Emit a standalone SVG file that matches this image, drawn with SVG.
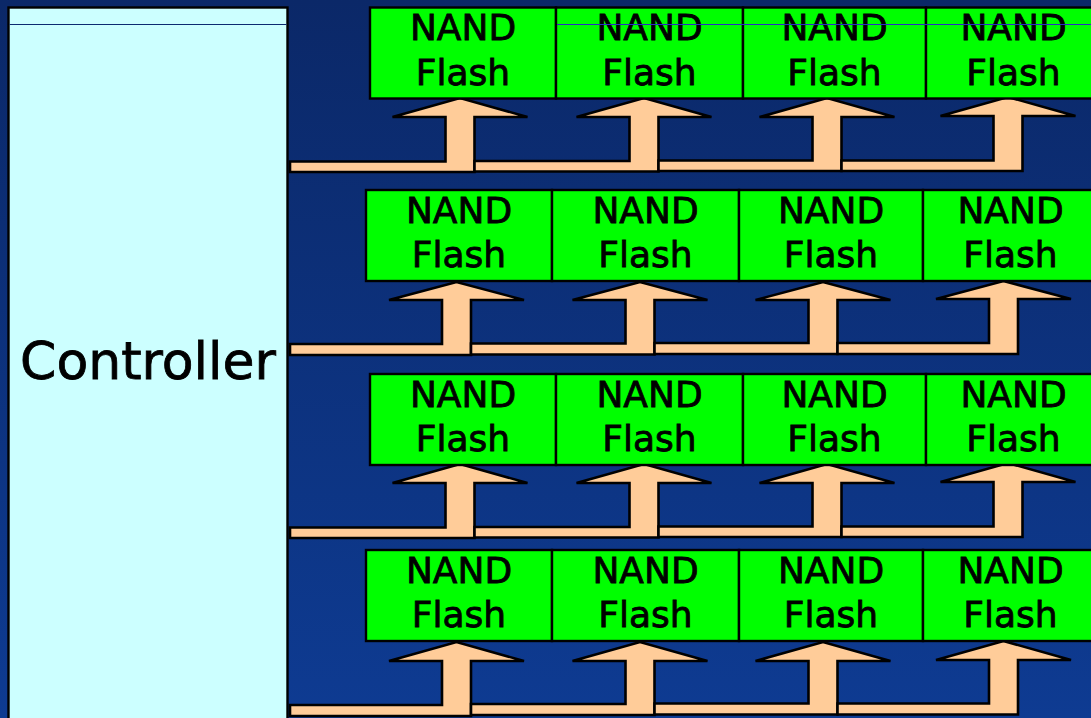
<svg xmlns="http://www.w3.org/2000/svg" width="1091" height="718" viewBox="0 0 1091 718">
  <defs>
    <linearGradient id="bg" x1="0" y1="0" x2="0" y2="1">
      <stop offset="0" stop-color="#0b2868"/>
      <stop offset="1" stop-color="#0e3b92"/>
    </linearGradient>
    <style>
      .chip { fill: #00ff00; stroke: #000; stroke-width: 2.4; }
      .chip-label { font-family: "DejaVu Sans", "Liberation Sans", sans-serif; font-size: 36px; fill: #000; stroke: #000; stroke-width: 0.8; text-anchor: middle; }
      .bus { fill: #ffcc99; stroke: #000; stroke-width: 2.6; stroke-linejoin: miter; }
      .ctrl { fill: #ccffff; stroke: #000; stroke-width: 2.4; }
      .ctrl-label { font-family: "DejaVu Sans", "Liberation Sans", sans-serif; font-size: 52px; fill: #000; stroke: #000; stroke-width: 0.8; text-anchor: middle; }
    </style>
  </defs>

  <rect x="0" y="0" width="1091" height="718" fill="url(#bg)"/>

  <!-- controller -->
  <g id="controller">
    <rect class="ctrl" x="8.5" y="7.5" width="279" height="720"/>
    <line x1="9.5" y1="24.5" x2="286.5" y2="24.5" stroke="#0c2a70" stroke-width="1"/>
    <text class="ctrl-label" x="148" y="379">Controller</text>
  </g>

  <!-- buses: each arrow branches from the previous stem up to one chip -->
  <g id="connectors">
    <!-- row 1 -->
    <path class="bus" d="M290,161.5 H445.5 V117 H392.5 L460,98 L527.5,117 H474.5 V172 H290 Z"/>
    <path class="bus" d="M474.5,161 H629.5 V117 H576.5 L644,98 L711.5,117 H658.5 V171.5 H474.5 Z"/>
    <path class="bus" d="M658.5,160.5 H812.5 V117 H759.5 L827,98 L894.5,117 H841.5 V171 H658.5 Z"/>
    <path class="bus" d="M841.5,160.5 H993.5 V116 H940.5 L1008,97 L1075.5,116 H1022.5 V171 H841.5 Z"/>
    <!-- row 2 -->
    <path class="bus" d="M290,344 H442 V300 H389 L456.5,282 L524,300 H471 V355 H290 Z"/>
    <path class="bus" d="M471,343.5 H625.5 V300 H572.5 L640,282 L707.5,300 H654.5 V354.5 H471 Z"/>
    <path class="bus" d="M654.5,343 H808.5 V300 H755.5 L823,282 L890.5,300 H837.5 V354 H654.5 Z"/>
    <path class="bus" d="M837.5,343 H989 V299 H936 L1003.5,281 L1071,299 H1018 V354 H837.5 Z"/>
    <!-- row 3 -->
    <path class="bus" d="M290,527.5 H445.5 V483 H392.5 L460,464 L527.5,483 H474.5 V538 H290 Z"/>
    <path class="bus" d="M474.5,527 H629.5 V483 H576.5 L644,464 L711.5,483 H658.5 V537.5 H474.5 Z"/>
    <path class="bus" d="M658.5,526.5 H812.5 V483 H759.5 L827,464 L894.5,483 H841.5 V537 H658.5 Z"/>
    <path class="bus" d="M841.5,526.5 H993.5 V482 H940.5 L1008,463 L1075.5,482 H1022.5 V537 H841.5 Z"/>
    <!-- row 4 -->
    <path class="bus" d="M290,705 H442 V661 H389 L456.5,642 L524,661 H471 V716 H290 Z"/>
    <path class="bus" d="M471,704 H625.5 V661 H572.5 L640,642 L707.5,661 H654.5 V715 H471 Z"/>
    <path class="bus" d="M654.5,703.5 H808.5 V661 H755.5 L823,642 L890.5,661 H837.5 V714.5 H654.5 Z"/>
    <path class="bus" d="M837.5,703.5 H989 V660 H936 L1003.5,641 L1071,660 H1018 V714.5 H837.5 Z"/>
  </g>

  <!-- row 1 chips -->
  <g id="chip-r1c1"><rect class="chip" x="370" y="7.5" width="186" height="91"/><text class="chip-label" x="463" y="40">NAND</text><text class="chip-label" x="463" y="85">Flash</text></g>
  <g id="chip-r1c2"><rect class="chip" x="556" y="7.5" width="187" height="91"/><text class="chip-label" x="649.5" y="40">NAND</text><text class="chip-label" x="649.5" y="85">Flash</text></g>
  <g id="chip-r1c3"><rect class="chip" x="743" y="7.5" width="183" height="91"/><text class="chip-label" x="834.5" y="40">NAND</text><text class="chip-label" x="834.5" y="85">Flash</text></g>
  <g id="chip-r1c4"><rect class="chip" x="926" y="7.5" width="176" height="91"/><text class="chip-label" x="1013.5" y="40">NAND</text><text class="chip-label" x="1013.5" y="85">Flash</text></g>
  <line x1="557" y1="24.5" x2="1091" y2="24.5" stroke="#2a2ac8" stroke-width="1"/>

  <!-- row 2 chips -->
  <g id="chip-r2c1"><rect class="chip" x="366" y="190" width="186" height="91"/><text class="chip-label" x="459" y="223">NAND</text><text class="chip-label" x="459" y="267">Flash</text></g>
  <g id="chip-r2c2"><rect class="chip" x="552" y="190" width="187" height="91"/><text class="chip-label" x="645.5" y="223">NAND</text><text class="chip-label" x="645.5" y="267">Flash</text></g>
  <g id="chip-r2c3"><rect class="chip" x="739" y="190" width="184" height="91"/><text class="chip-label" x="831" y="223">NAND</text><text class="chip-label" x="831" y="267">Flash</text></g>
  <g id="chip-r2c4"><rect class="chip" x="923" y="190" width="176" height="91"/><text class="chip-label" x="1010.5" y="223">NAND</text><text class="chip-label" x="1010.5" y="267">Flash</text></g>

  <!-- row 3 chips -->
  <g id="chip-r3c1"><rect class="chip" x="370" y="374" width="186" height="91"/><text class="chip-label" x="463" y="407">NAND</text><text class="chip-label" x="463" y="451">Flash</text></g>
  <g id="chip-r3c2"><rect class="chip" x="556" y="374" width="187" height="91"/><text class="chip-label" x="649.5" y="407">NAND</text><text class="chip-label" x="649.5" y="451">Flash</text></g>
  <g id="chip-r3c3"><rect class="chip" x="743" y="374" width="183" height="91"/><text class="chip-label" x="834.5" y="407">NAND</text><text class="chip-label" x="834.5" y="451">Flash</text></g>
  <g id="chip-r3c4"><rect class="chip" x="926" y="374" width="176" height="91"/><text class="chip-label" x="1013.5" y="407">NAND</text><text class="chip-label" x="1013.5" y="451">Flash</text></g>

  <!-- row 4 chips -->
  <g id="chip-r4c1"><rect class="chip" x="366" y="550" width="186" height="91"/><text class="chip-label" x="459" y="583">NAND</text><text class="chip-label" x="459" y="627">Flash</text></g>
  <g id="chip-r4c2"><rect class="chip" x="552" y="550" width="187" height="91"/><text class="chip-label" x="645.5" y="583">NAND</text><text class="chip-label" x="645.5" y="627">Flash</text></g>
  <g id="chip-r4c3"><rect class="chip" x="739" y="550" width="184" height="91"/><text class="chip-label" x="831" y="583">NAND</text><text class="chip-label" x="831" y="627">Flash</text></g>
  <g id="chip-r4c4"><rect class="chip" x="923" y="550" width="176" height="91"/><text class="chip-label" x="1010.5" y="583">NAND</text><text class="chip-label" x="1010.5" y="627">Flash</text></g>
</svg>
